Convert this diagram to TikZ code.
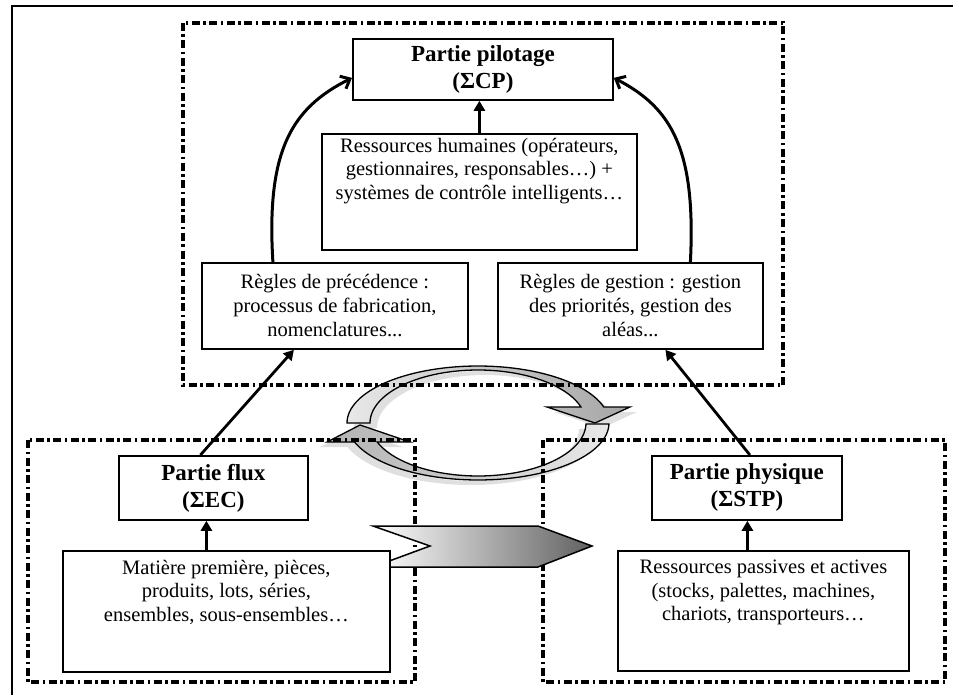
\documentclass[tikz,border=0pt]{standalone}
\usepackage{fontspec}
\setmainfont{Liberation Serif}
\usetikzlibrary{arrows.meta,calc}
\newcommand\ringUp{plot[domain=180:16.3,samples=60,variable=\ang]({478+131*cos(\ang)},{423-57*sin(\ang)}) -- (630,407) -- (595,423) -- (547,407) -- plot[domain=17.6:180,samples=60,variable=\ang]({478+108*cos(\ang)},{423-53*sin(\ang)}) -- cycle}
\newcommand\ringDown{plot[domain=-1:-160.5,samples=60,variable=\ang]({478+131*cos(\ang)},{423-57*sin(\ang)}) -- (327,442) -- (360,425) -- (410,442) -- plot[domain=-159:-1,samples=60,variable=\ang]({478+108*cos(\ang)},{423-53*sin(\ang)}) -- cycle}
\tikzset{
  box/.style={draw, line width=1.8pt, fill=white, inner sep=0pt, anchor=north west,
    align=center, font=\fontsize{20.5}{24}\selectfont},
  title/.style={box, font=\fontsize{23}{27}\selectfont\bfseries},
  txt/.style={inner sep=0pt, align=center, font=\fontsize{20.5}{23.5}\selectfont},
  dashbox/.style={line width=3.2pt, dash pattern=on 8pt off 3.5pt on 2.5pt off 3.5pt},
  arr/.style={line width=2.8pt, -{Triangle[length=10pt,width=11pt]}},
  carr/.style={line width=3pt, -{Straight Barb[length=8pt,width=14pt]}},
}
\begin{document}
\begin{tikzpicture}[x=1pt,y=-1pt]
\useasboundingbox (0,0) rectangle (953,695);
\fill[white] (0,0) rectangle (953,695);
% outer frame (only left and top visible)
\draw[line width=2.6pt] (12,720) -- (12,6) -- (980,6);
% cycle arrows (shadow, then bodies)
\fill[gray!35, opacity=0.7, shift={(7,5)}] \ringUp;
\fill[gray!35, opacity=0.7, shift={(-7,5)}] \ringDown;
\draw[line width=1.3pt, left color=gray!18, right color=gray!70] \ringUp;
\draw[line width=1.3pt, left color=gray!60, right color=gray!18] \ringDown;
% dash-dot boxes
\draw[dashbox] (183,23) rectangle (783,385);
\draw[dashbox] (28,440) rectangle (415,682);
\draw[dashbox] (543,440) rectangle (945,682);
% big chevron arrow
\draw[line width=1.5pt, left color=white, right color=black!62]
  (373,526) -- (538,526) -- (592,546) -- (538,567) -- (373,567) -- (430,546) -- cycle;
% nodes
\node[title, minimum width=260pt, minimum height=61pt] (pil) at (352,38)
  {Partie pilotage\\(ΣCP)};
\node[box, minimum width=315pt, minimum height=116pt] (hum) at (321,133) {};
\node[txt, anchor=north] (humt) at ([yshift=-5pt]hum.north)
  {Ressources humaines (opérateurs,\\gestionnaires, responsables…) +\\systèmes de contrôle intelligents…};
\node[box, minimum width=266pt, minimum height=86pt] (prec) at (201,262)
  {Règles de précédence :\\processus de fabrication,\\nomenclatures...};
\node[box, minimum width=265pt, minimum height=86pt] (gest) at (497,262)
  {Règles de gestion : gestion\\des priorités, gestion des\\aléas...};
\node[title, minimum width=189pt, minimum height=64pt] (flux) at (118,455)
  {Partie flux\\(ΣEC)};
\node[title, minimum width=190pt, minimum height=64pt] (phys) at (651,455)
  {Partie physique\\(ΣSTP)};
\node[box, minimum width=327pt, minimum height=121pt] (mat) at (62,550) {};
\node[txt, anchor=north] (matt) at ([yshift=-10pt]mat.north)
  {Matière première, pièces,\\produits, lots, séries,\\ensembles, sous-ensembles…};
\node[box, minimum width=291pt, minimum height=120pt] (pass) at (617,550) {};
\node[txt, anchor=north] (passt) at ([yshift=-10pt]pass.north)
  {Ressources passives et actives\\(stocks, palettes, machines,\\chariots, transporteurs…};
% connectors
\draw[carr] ([xshift=-62pt]prec.north) .. controls (266,150) and (292,108) .. ([yshift=-8.5pt]pil.west);
\draw[carr] ([xshift=60pt]gest.north) .. controls (696,150) and (672,108) .. ([yshift=-8.5pt]pil.east);
\draw[arr] (hum.north) -- (hum.north |- pil.south);
\draw[arr] ([xshift=-13pt]flux.north) -- ([xshift=-41pt]prec.south);
\draw[arr] ([xshift=3pt]phys.north) -- ([xshift=35pt]gest.south);
\draw[arr] ([xshift=-20pt]mat.north) -- ([xshift=-20pt]mat.north |- flux.south);
\draw[arr] ([xshift=-16pt]pass.north) -- ([xshift=-16pt]pass.north |- phys.south);
\end{tikzpicture}
\end{document}
